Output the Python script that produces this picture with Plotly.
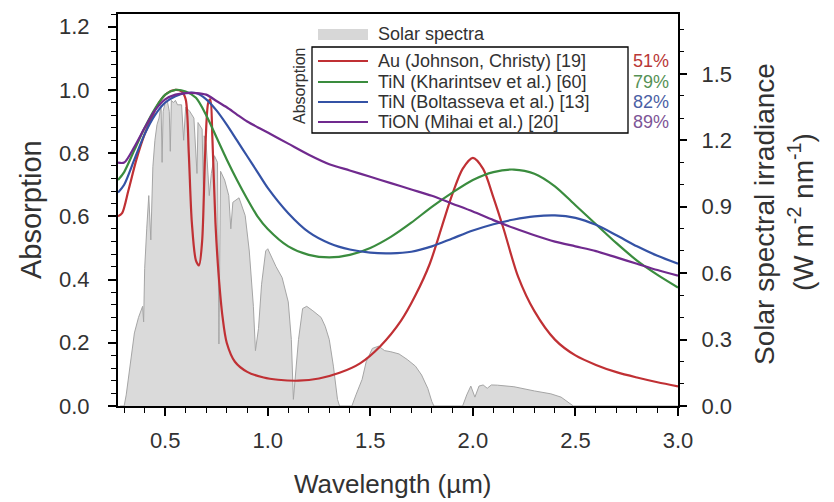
import plotly.graph_objects as go

# ---------------- data ----------------
solar_wl = [0.28, 0.30, 0.31, 0.33, 0.35, 0.37, 0.39, 0.395, 0.40, 0.41, 0.42, 0.43, 0.435, 0.44,
            0.45, 0.46, 0.47, 0.48, 0.485, 0.49, 0.50, 0.51, 0.52, 0.525, 0.53, 0.54, 0.55, 0.56,
            0.58, 0.59, 0.60, 0.62, 0.64, 0.655, 0.66, 0.68, 0.687, 0.69, 0.70, 0.715, 0.725, 0.74,
            0.755, 0.762, 0.77, 0.79, 0.81, 0.82, 0.83, 0.86, 0.89, 0.91, 0.93, 0.94, 0.955, 0.97,
            0.99, 1.00, 1.04, 1.07, 1.10, 1.115, 1.125, 1.135, 1.15, 1.17, 1.19, 1.22, 1.26, 1.28,
            1.30, 1.32, 1.34, 1.35, 1.41, 1.43, 1.46, 1.48, 1.51, 1.54, 1.57, 1.60, 1.64, 1.68,
            1.72, 1.75, 1.78, 1.80, 1.81, 1.95, 1.97, 1.99, 2.01, 2.03, 2.05, 2.07, 2.09, 2.12,
            2.20, 2.30, 2.38, 2.43, 2.46, 2.49, 3.00]
solar_irr = [0.0, 0.0, 0.05, 0.20, 0.33, 0.40, 0.45, 0.38, 0.62, 0.80, 0.95, 0.75, 1.00, 1.08,
             1.20, 1.27, 1.30, 1.36, 1.10, 1.33, 1.37, 1.38, 1.33, 1.15, 1.38, 1.37, 1.38, 1.36,
             1.36, 1.20, 1.35, 1.33, 1.30, 1.05, 1.28, 1.25, 0.95, 1.22, 1.18, 0.95, 1.05, 1.13,
             1.10, 0.28, 1.06, 1.02, 0.95, 0.80, 0.92, 0.94, 0.86, 0.70, 0.45, 0.25, 0.35, 0.55,
             0.70, 0.71, 0.63, 0.58, 0.47, 0.30, 0.03, 0.15, 0.30, 0.44, 0.45, 0.43, 0.40, 0.36,
             0.30, 0.18, 0.03, 0.0, 0.0, 0.05, 0.12, 0.20, 0.26, 0.27, 0.25, 0.245, 0.235, 0.21,
             0.18, 0.14, 0.08, 0.02, 0.0, 0.0, 0.05, 0.09, 0.04, 0.09, 0.095, 0.08, 0.095, 0.094,
             0.087, 0.068, 0.055, 0.04, 0.02, 0.0, 0.0]

au_wl = [0.27, 0.29, 0.32, 0.36, 0.40, 0.43, 0.47, 0.51, 0.55, 0.58, 0.60, 0.615, 0.63, 0.65,
         0.665, 0.68, 0.695, 0.71, 0.72, 0.73, 0.745, 0.76, 0.78, 0.80, 0.84, 0.90, 0.98, 1.05,
         1.15, 1.25, 1.35, 1.45, 1.55, 1.65, 1.72, 1.79, 1.85, 1.90, 1.95, 2.00, 2.05, 2.10,
         2.15, 2.22, 2.30, 2.40, 2.50, 2.60, 2.70, 2.80, 2.90, 3.00]
au_abs = [0.60, 0.61, 0.68, 0.78, 0.86, 0.905, 0.96, 0.99, 1.00, 0.995, 0.97, 0.80, 0.58, 0.46,
          0.445, 0.52, 0.80, 0.96, 0.97, 0.85, 0.58, 0.42, 0.28, 0.20, 0.14, 0.108, 0.09, 0.083,
          0.08, 0.087, 0.105, 0.135, 0.19, 0.27, 0.35, 0.45, 0.57, 0.67, 0.75, 0.785, 0.75, 0.66,
          0.56, 0.41, 0.30, 0.21, 0.16, 0.13, 0.107, 0.09, 0.075, 0.062]

grid_wl = [0.27, 0.30, 0.35, 0.40, 0.45, 0.50, 0.55, 0.60, 0.65, 0.70, 0.75, 0.80, 0.85, 0.90,
           0.95, 1.00, 1.10, 1.20, 1.30, 1.40, 1.50, 1.60, 1.70, 1.80, 1.90, 2.00, 2.10, 2.20,
           2.30, 2.40, 2.50, 2.60, 2.70, 2.80, 2.90, 3.00]
tin_k_abs = [0.715, 0.74, 0.81, 0.88, 0.94, 0.985, 1.00, 0.995, 0.975, 0.92, 0.85, 0.78, 0.715, 0.655,
             0.60, 0.56, 0.505, 0.478, 0.47, 0.478, 0.50, 0.535, 0.58, 0.63, 0.675, 0.715, 0.74, 0.748,
             0.735, 0.695, 0.635, 0.575, 0.515, 0.46, 0.415, 0.375]
tin_b_abs = [0.675, 0.70, 0.78, 0.86, 0.92, 0.96, 0.98, 0.99, 0.99, 0.97, 0.935, 0.89, 0.84, 0.79,
             0.74, 0.69, 0.61, 0.55, 0.515, 0.495, 0.485, 0.483, 0.488, 0.505, 0.53, 0.555, 0.575, 0.59,
             0.60, 0.603, 0.595, 0.573, 0.54, 0.505, 0.475, 0.45]
tion_abs = [0.77, 0.77, 0.82, 0.88, 0.935, 0.97, 0.985, 0.99, 0.99, 0.985, 0.965, 0.945, 0.922, 0.90,
            0.882, 0.865, 0.83, 0.795, 0.765, 0.745, 0.725, 0.705, 0.685, 0.665, 0.64, 0.615, 0.588, 0.563,
            0.54, 0.52, 0.505, 0.49, 0.47, 0.45, 0.43, 0.412]

series_names = ["Au (Johnson, Christy) [19]", "TiN (Kharintsev et al.) [60]",
                "TiN (Boltasseva et al.) [13]", "TiON (Mihai et al.) [20]"]
series_pct = ["51%", "79%", "82%", "89%"]
solar_name = "Solar spectra"

# ---------------- styles ----------------
line_colors = ["rgb(192,48,52)", "rgb(58,140,62)", "rgb(52,82,165)", "rgb(112,42,142)"]
pct_colors = ["rgb(185,55,55)", "rgb(85,145,85)", "rgb(75,95,165)", "rgb(125,85,150)"]
FONT = "Liberation Sans, Arial, sans-serif"
TXT = "rgb(50,50,50)"

W, H = 834, 502
L, R, T, B = 118, 156, 14, 96
PW, PH = W - L - R, H - T - B


def px(x):
    return (x - L) / PW


def py(y):
    return (H - B - y) / PH


fig = go.Figure()

fig.add_trace(go.Scatter(x=solar_wl, y=solar_irr, mode="lines", fill="tozeroy",
                         fillcolor="rgb(218,218,218)", line=dict(color="rgb(165,165,165)", width=1),
                         yaxis="y", showlegend=False, hoverinfo="skip"))

for wl, vals, col in [(au_wl, au_abs, line_colors[0]), (grid_wl, tin_k_abs, line_colors[1]),
                      (grid_wl, tin_b_abs, line_colors[2]), (grid_wl, tion_abs, line_colors[3])]:
    fig.add_trace(go.Scatter(x=wl, y=vals, mode="lines", yaxis="y2",
                             line=dict(color=col, width=2.2, shape="spline", smoothing=0.8),
                             showlegend=False))

axis_common = dict(showline=True, linecolor="black", linewidth=2, showgrid=False, zeroline=False,
                   ticks="outside", tickcolor="black", tickwidth=1.5,
                   tickfont=dict(family=FONT, size=22, color=TXT))

fig.update_layout(
    width=W, height=H, margin=dict(l=L, r=R, t=T, b=B),
    paper_bgcolor="white", plot_bgcolor="white", showlegend=False,
    xaxis=dict(range=[0.27, 3.0], tick0=0, dtick=0.5, tickformat=".1f", ticklen=8, mirror=True,
               ticklabelstandoff=6,
               minor=dict(dtick=0.1, ticklen=5, ticks="outside", tickcolor="black", tickwidth=1.3),
               **axis_common),
    yaxis=dict(range=[0, 1.77], side="right", tick0=0, dtick=0.3, tickformat=".1f", ticklen=7,
               ticklabelstandoff=10,
               minor=dict(dtick=0.1, ticklen=4, ticks="outside", tickcolor="black", tickwidth=1.3),
               **axis_common),
    yaxis2=dict(range=[0, 1.24], side="left", overlaying="y", tick0=0, dtick=0.2, tickformat=".1f",
                ticklen=8, ticklabelstandoff=14,
                minor=dict(dtick=0.04, ticklen=5, ticks="outside", tickcolor="black", tickwidth=1.3),
                **axis_common),
)

shapes = []
ann = []
LEG = 18
# legend box
shapes.append(dict(type="rect", xref="paper", yref="paper", x0=px(312), x1=px(628), y0=py(133), y1=py(47),
                   line=dict(color="black", width=1.3), fillcolor="white", layer="above"))
# solar patch
shapes.append(dict(type="rect", xref="paper", yref="paper", x0=px(318), x1=px(368), y0=py(40), y1=py(29),
                   line=dict(width=0), fillcolor="rgb(215,215,215)", layer="above"))
ann.append(dict(text=solar_name, xref="paper", yref="paper", x=px(376), y=py(34), xanchor="left",
                yanchor="middle", showarrow=False, font=dict(family=FONT, size=LEG, color=TXT)))
entry_y = [61, 82, 102, 122]
for i, name in enumerate(series_names):
    yy = entry_y[i]
    shapes.append(dict(type="line", xref="paper", yref="paper", x0=px(318), x1=px(368), y0=py(yy), y1=py(yy),
                       line=dict(color=line_colors[i], width=2.2), layer="above"))
    ann.append(dict(text=name, xref="paper", yref="paper", x=px(376), y=py(yy), xanchor="left",
                    yanchor="middle", showarrow=False, font=dict(family=FONT, size=LEG, color=TXT)))
    ann.append(dict(text=series_pct[i], xref="paper", yref="paper", x=px(631), y=py(yy), xanchor="left",
                    yanchor="middle", showarrow=False, font=dict(family=FONT, size=LEG, color=pct_colors[i])))
ann.append(dict(text="Absorption", xref="paper", yref="paper", x=px(299), y=py(86), textangle=-90,
                xanchor="center", yanchor="middle", showarrow=False,
                font=dict(family=FONT, size=16, color=TXT)))

# axis titles
ann.append(dict(text="Absorption", xref="paper", yref="paper", x=px(31), y=py(210), textangle=-90,
                xanchor="center", yanchor="middle", showarrow=False,
                font=dict(family=FONT, size=29, color=TXT)))
ann.append(dict(text="Wavelength (µm)", xref="paper", yref="paper", x=px(393), y=py(484),
                xanchor="center", yanchor="middle", showarrow=False,
                font=dict(family=FONT, size=26, color=TXT)))
ann.append(dict(text="Solar spectral irradiance", xref="paper", yref="paper", x=px(764), y=py(214),
                textangle=-90, xanchor="center", yanchor="middle", showarrow=False,
                font=dict(family=FONT, size=28, color=TXT)))
ann.append(dict(text="(W m<sup>-2</sup> nm<sup>-1</sup>)", xref="paper", yref="paper", x=px(801), y=py(212),
                textangle=-90, xanchor="center", yanchor="middle", showarrow=False,
                font=dict(family=FONT, size=28, color=TXT)))

fig.update_layout(shapes=shapes, annotations=ann)
fig.write_html("out.html")
